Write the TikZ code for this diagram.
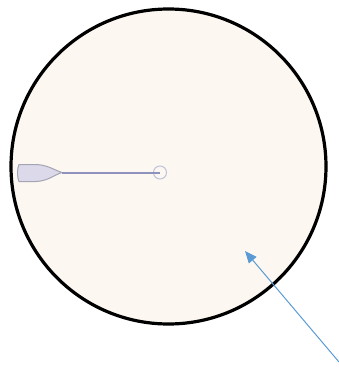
\documentclass[tikz,border=0pt]{standalone}
\usetikzlibrary{arrows.meta}
\definecolor{cream}{HTML}{FCF7F1}
\definecolor{needlefill}{HTML}{DCDAEA}
\definecolor{needleline}{HTML}{A4A4B4}
\definecolor{shaft}{HTML}{8E92BC}
\definecolor{arrowblue}{HTML}{5B9BD5}
\tikzset{
  dish/.style={circle, draw=black, line width=3.2pt, fill=cream, minimum size=315pt, inner sep=0pt},
  tipring/.style={circle, draw=shaft!55, line width=1pt, minimum size=13pt, inner sep=0pt},
  pointer/.style={draw=arrowblue, line width=1pt, -{Triangle[length=12pt,width=10pt]}}
}
\begin{document}
\begin{tikzpicture}[x=1pt,y=-1pt]
\useasboundingbox (0,0) rectangle (339,372);
\node[dish] (dish) at (168.5,166.5) {};
% needle body
\draw[needleline, fill=needlefill, line width=1pt]
  (19,164.5) -- (36,164.5) .. controls (48,165) and (54,170) .. (62,172.5)
  .. controls (54,175) and (48,181) .. (36,181.5) -- (19,181.5)
  .. controls (17,178) and (17,168) .. cycle;
\node[tipring] (ring) at (160,172.5) {};
\coordinate (hub) at (62,172.5);
\draw[shaft, line width=2pt] (hub) -- (ring.center);
\coordinate (tail) at (339,362);
\coordinate (head) at (245,251);
\draw[pointer] (tail) -- (head);
\end{tikzpicture}
\end{document}
